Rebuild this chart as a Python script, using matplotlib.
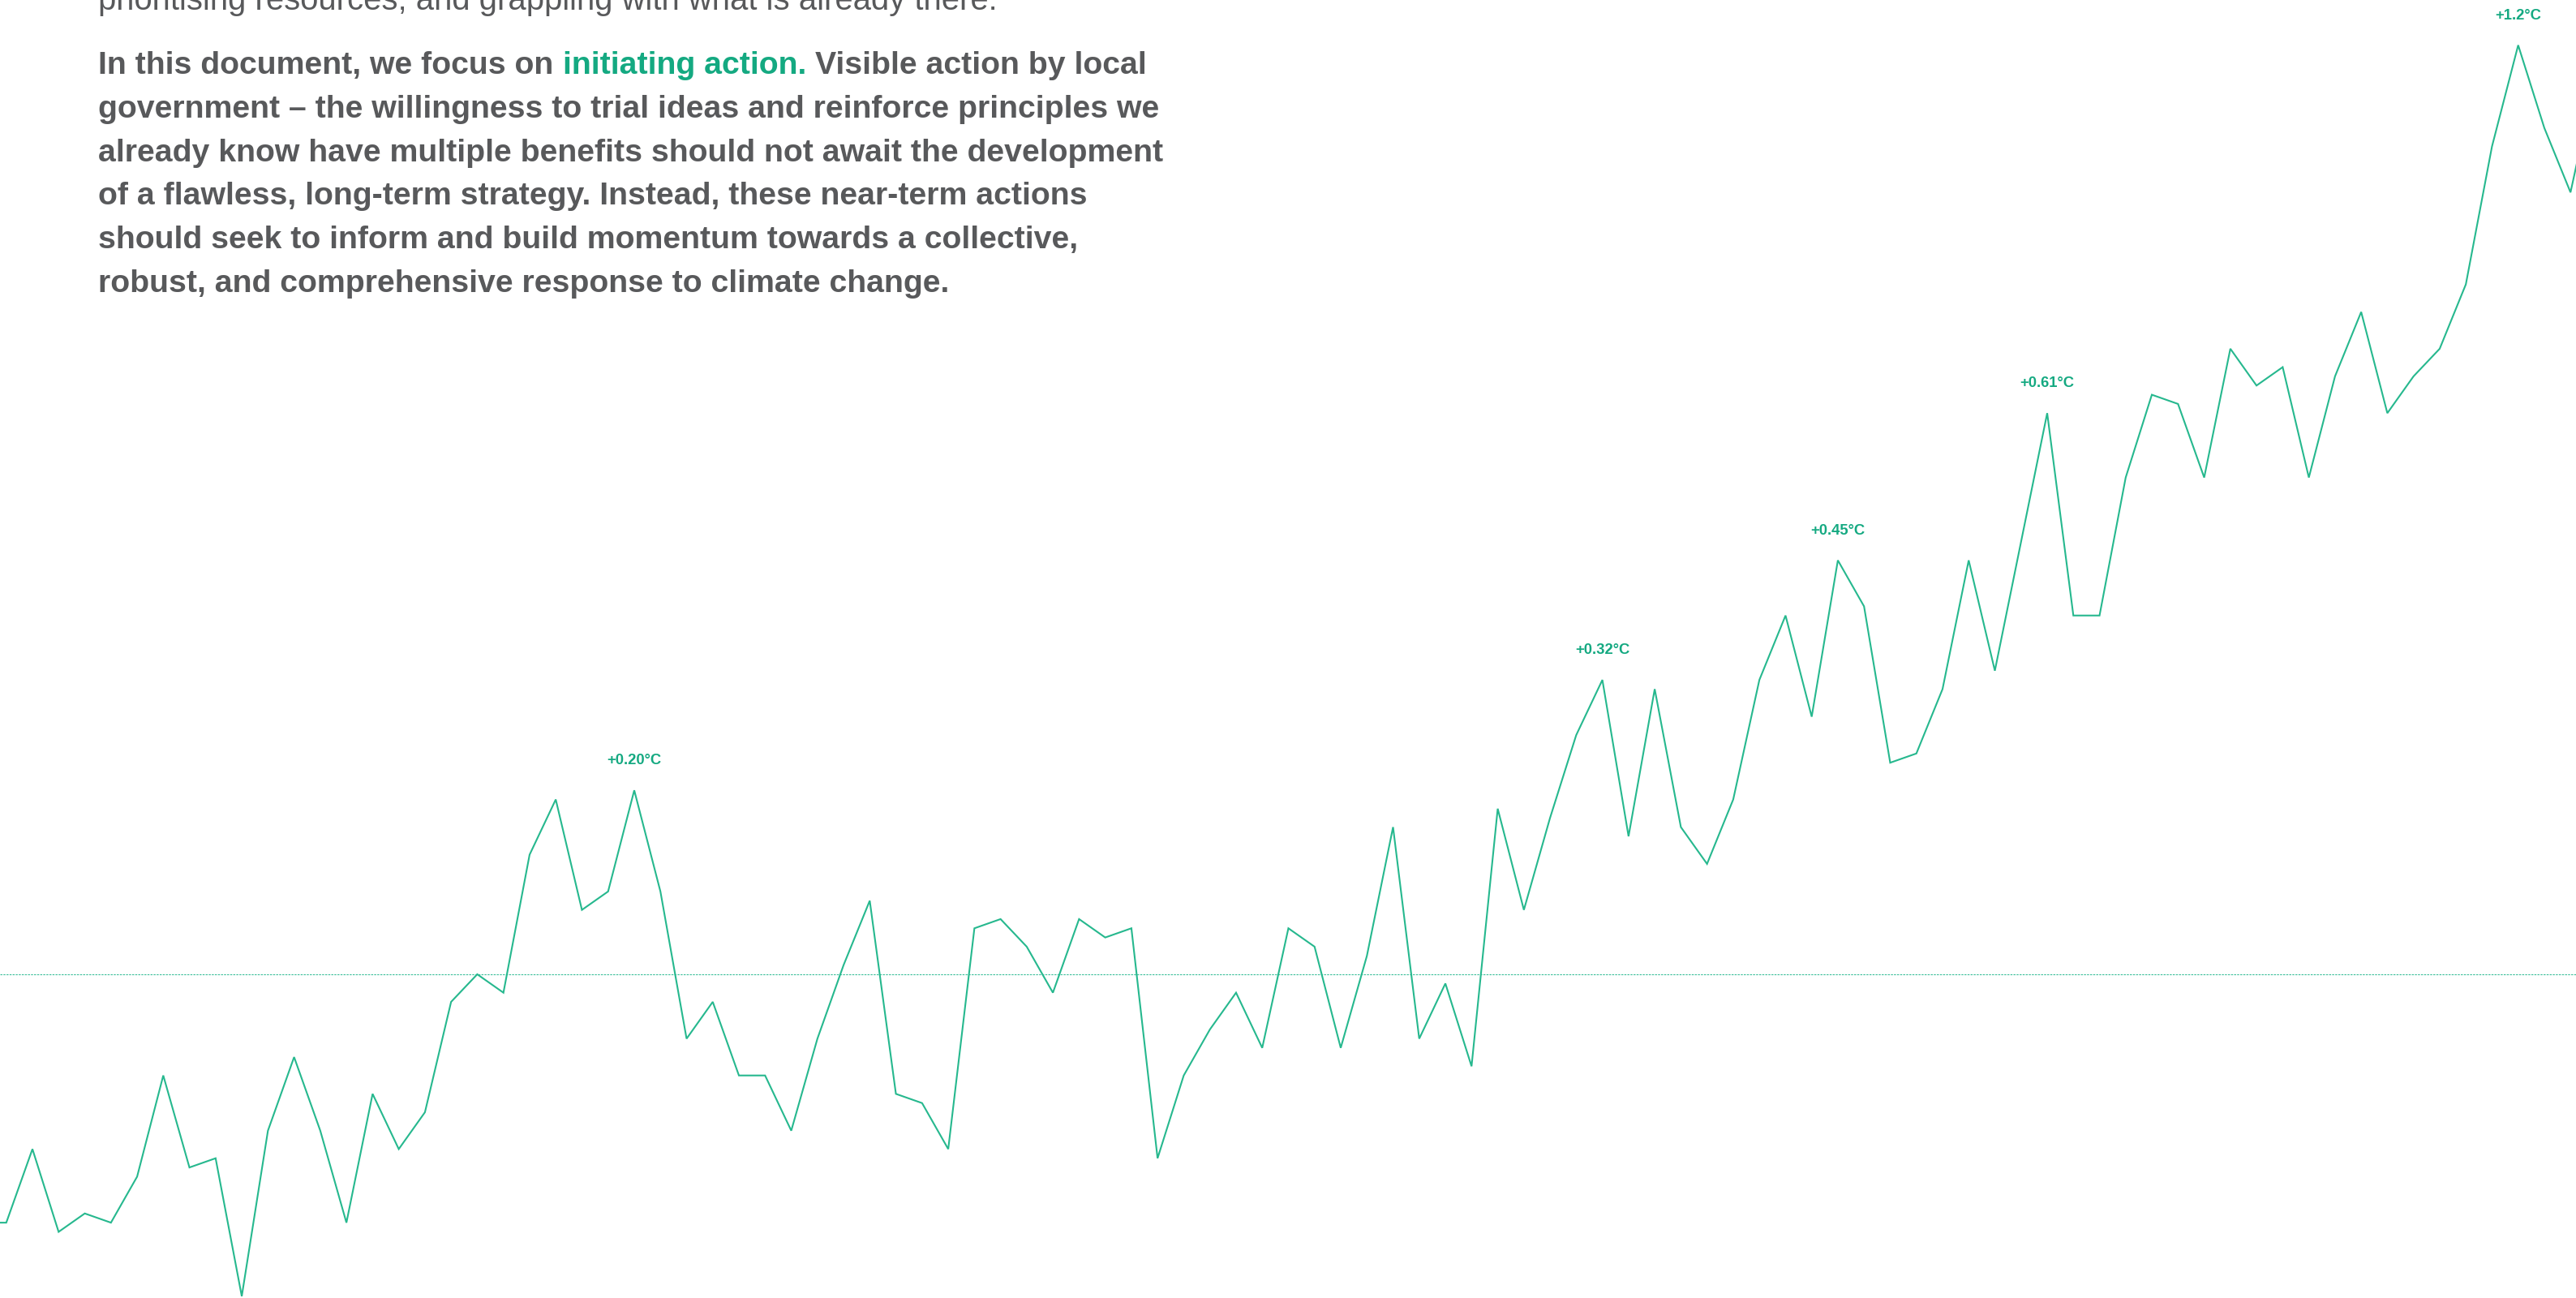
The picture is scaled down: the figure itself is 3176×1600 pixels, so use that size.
import matplotlib
matplotlib.use("Agg")
import matplotlib.pyplot as plt

# ---------------- data ----------------
years = list(range(1919, 2020))
anomaly = [
    -0.27, -0.27, -0.19, -0.28, -0.26, -0.27, -0.22, -0.11, -0.21, -0.20,   # 1919-1928
    -0.35, -0.17, -0.09, -0.17, -0.27, -0.13, -0.19, -0.15, -0.03, 0.00,    # 1929-1938
    -0.02, 0.13, 0.19, 0.07, 0.09, 0.20, 0.09, -0.07, -0.03, -0.11,         # 1939-1948
    -0.11, -0.17, -0.07, 0.01, 0.08, -0.13, -0.14, -0.19, 0.05, 0.06,       # 1949-1958
    0.03, -0.02, 0.06, 0.04, 0.05, -0.20, -0.11, -0.06, -0.02, -0.08,       # 1959-1968
    0.05, 0.03, -0.08, 0.02, 0.16, -0.07, -0.01, -0.10, 0.18, 0.07,         # 1969-1978
    0.17, 0.26, 0.32, 0.15, 0.31, 0.16, 0.12, 0.19, 0.32, 0.39,             # 1979-1988
    0.28, 0.45, 0.40, 0.23, 0.24, 0.31, 0.45, 0.33, 0.47, 0.61,             # 1989-1998
    0.39, 0.39, 0.54, 0.63, 0.62, 0.54, 0.68, 0.64, 0.66, 0.54,             # 1999-2008
    0.65, 0.72, 0.61, 0.65, 0.68, 0.75, 0.90, 1.01, 0.92, 0.85,             # 2009-2018
    0.98,                                                                    # 2019
]
label_years = [1944, 1981, 1990, 1998, 2016]
label_texts = ["+0.20°C", "+0.32°C", "+0.45°C", "+0.61°C", "+1.2°C"]

top_line = "prioritising resources, and grappling with what is already there."
para_first = ["In this document, we focus on", "initiating action.", "Visible action by local"]
para_lines = [
    "government – the willingness to trial ideas and reinforce principles we",
    "already know have multiple benefits should not await the development",
    "of a flawless, long-term strategy. Instead, these near-term actions",
    "should seek to inform and build momentum towards a collective,",
    "robust, and comprehensive response to climate change.",
]

# ---------------- style ----------------
W, H = 3176, 1600
LINE_C = "#26b88e"
TEXT_GREEN = "#14a981"
GRAY = "#58595b"
FONT = ["Liberation Sans", "DejaVu Sans"]

fig = plt.figure(figsize=(W / 100, H / 100), dpi=100)
fig.patch.set_facecolor("white")
ax = fig.add_axes([0, 0, 1, 1])
ax.set_axis_off()

ax.plot(years, anomaly, color=LINE_C, lw=1.5, solid_joinstyle="miter", zorder=3)
ax.axhline(0, color=LINE_C, lw=0.8, ls=(0, (2.2, 1.2)), alpha=0.9, zorder=2)

for yr, txt in zip(label_years, label_texts):
    val = anomaly[years.index(yr)]
    ax.annotate(txt, (yr, val), xytext=(0, 23), textcoords="offset points",
                ha="center", va="baseline", fontsize=13.3, fontweight="bold",
                color=TEXT_GREEN, family=FONT)

ax.set_xlim(1919.76, 2018.21)
ax.set_ylim(-0.3519, 1.0591)

# ---------------- text block ----------------
renderer = fig.canvas.get_renderer()


def width(s, size, weight):
    t = fig.text(0, 0, s, fontsize=size, fontweight=weight, family=FONT)
    w = t.get_window_extent(renderer).width
    t.remove()
    return w


bold_size = 20 * 1312 / width(para_lines[1], 20, "bold")
reg_size = 20 * 1105 / width(top_line, 20, "normal")
left = 121.5


def put(x_px, y_px, s, size, weight, color):
    fig.text(x_px / W, 1 - y_px / H, s, fontsize=size, fontweight=weight,
             color=color, family=FONT, ha="left", va="baseline")


put(left, 12, top_line, reg_size, "normal", GRAY)

space = width("a a", bold_size, "bold") - width("aa", bold_size, "bold")
x = left
y0 = 91
colors = [GRAY, TEXT_GREEN, GRAY]
for seg, c in zip(para_first, colors):
    put(x, y0, seg, bold_size, "bold", c)
    x += width(seg, bold_size, "bold") + space

for i, ln in enumerate(para_lines):
    put(left, y0 + 53.8 * (i + 1), ln, bold_size, "bold", GRAY)

fig.savefig("out.png", dpi=100, facecolor="white")
